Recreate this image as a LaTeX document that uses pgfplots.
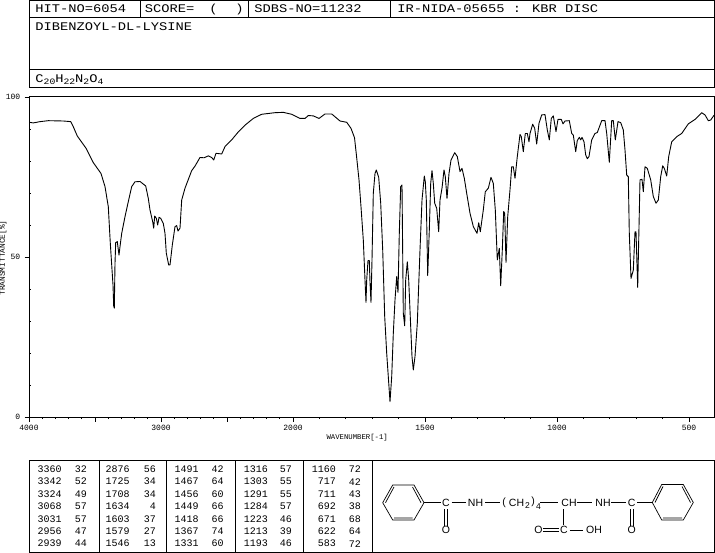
\documentclass[border=0pt]{standalone}
\usepackage{pgfplots}
\pgfplotsset{compat=1.18}
\usepackage{fontspec}
\setmainfont{Liberation Mono}
\newfontfamily\sansf{Liberation Sans}
\newcommand\hdrf{\fontsize{13.75}{14}\selectfont}
\newcommand\subf{\fontsize{9.7}{10}\selectfont}
\newcommand\tabf{\fontsize{10}{11}\selectfont}
\newcommand\tickf{\fontsize{8}{9}\selectfont}
\newcommand\strf{\sansf\fontsize{10.5}{11}\selectfont}
\newcommand\strsub{\sansf\fontsize{8.5}{9}\selectfont}
\begin{document}
\begin{tikzpicture}[line cap=butt]
\useasboundingbox (0,0) rectangle (715pt,-553pt);
\fill[white] (0,0) rectangle (715pt,-553pt);
\begin{axis}[
  at={(29pt,-417pt)}, anchor=south west,
  scale only axis, width=685.5pt, height=320pt,
  xmin=29, xmax=714.5, ymin=0, ymax=100,
  axis line style={line width=1pt, black},
  tick style={black, line width=.8pt},
  tick align=outside, xtick pos=bottom, ytick pos=left,
  major tick length=4.5pt, minor tick length=2pt,
  xtick={29,95,161,227,293,425,557,689},
  xticklabels={4000,,3000,,2000,1500,1000,500},
  minor xtick={42.2,55.4,68.6,81.8,108.2,121.4,134.6,147.8,174.2,187.4,200.6,213.8,240.2,253.4,266.6,279.8,319.4,345.8,372.2,398.6,451.4,477.8,504.2,530.6,583.4,609.8,636.2,662.6},
  ytick={0,50,100}, yticklabels={0,50,100},
  extra y ticks={10,20,30,40,60,70,80,90},
  extra y tick labels={},
  extra y tick style={tick align=inside, major tick length=2pt},
  tick label style={font=\tickf, inner sep=0pt},
  xticklabel style={yshift=-3pt},
  yticklabel style={xshift=-4pt},
  xlabel={WAVENUMBER[-1]},
  xlabel style={at={(axis description cs:0.4788,-0.053)}, anchor=north, font=\fontsize{7.3}{8}\selectfont, inner sep=0pt},
  ylabel={TRANSMITTANCE[\%]},
  ylabel style={at={(axis description cs:-0.038,0.497)}, anchor=center, font=\fontsize{7.8}{8}\selectfont, inner sep=0pt},
]
\addplot[black, line width=.9pt, line join=round] table {
29.3 92.1
33.3 91.9
40 92.3
48.3 92.6
63.3 92.5
70.7 92.3
73.3 90.7
77.3 87.8
86 84
93.3 79.5
101 76.1
105 72
108.3 65.7
110.3 54.3
111.7 47.5
113 41.3
113.7 34.7
114.3 34
115 48
115.7 54.5
117.3 54.8
119 50.6
120 53.2
121.7 57.4
125 62.6
128.3 67.3
131.7 72
135 73.5
140 73.6
145.7 72.2
148.3 68.3
150 64.7
152.7 61
153.7 59
154.7 62.8
156.3 62.1
157.7 60
159 62.4
160.7 62.1
163.3 60.5
165 57.4
166.3 51.2
168.7 47.5
170 47.5
172.3 53.7
175 59.5
176.7 59.8
178 58.1
180 59
181.7 67.8
185 71.5
191.7 77
195 78.4
200 81.1
204 81
208.3 81.6
211.7 81.1
213.7 80.3
216 82.4
221.7 82.2
225 84.5
231.7 86.6
238.3 89.1
245 91.2
253.3 93.3
261.7 94.6
275 95.1
283.3 95.2
291.7 94.6
300 93.3
305 93.3
308.3 94.2
313.3 94.1
319 93.3
325 94.7
331.7 94.7
340 92.5
346.7 92.1
351 90.2
354.5 87.3
356.5 81.6
359 74.1
361 65.7
363.3 55.3
365 42.8
366 35.8
366.7 42.8
368 48.9
369.3 48.9
370 42.1
371 35.8
372 49.1
373.3 69.9
375 76.1
376.3 77.2
378.7 74.9
380.7 66.8
382.7 52.2
384.7 31.4
386.7 19.9
388.3 12.6
390 4.8
391.7 12.6
393.3 26.1
395 36.6
396.7 43.9
398 38.9
399.3 57.4
400.7 72
402 72.5
403.3 32.4
404.7 28.5
405.7 42.8
407.3 48.5
408.7 42.8
410.7 28.2
412 18.9
413.3 14.7
415 18.9
417.3 29.3
420 52.2
422 67.8
424.3 75.3
425.3 73.5
426.3 67.8
427.7 44.2
429.3 58.4
430.7 73
432 77
433.3 73
434.7 66.8
436.7 65.2
438.7 57.9
440 67.8
442 71.5
444 77.2
445.3 75.1
447 68.3
449 76.1
451 80.3
454.7 82.6
457.3 81.4
460 76.7
462 77.7
464.3 74.6
466.7 69.9
470 63.7
473.3 59.5
477 57.4
478.7 60.7
480.3 57.9
483.3 64.7
485.3 70.4
488.3 71.5
491 74.9
493.3 73
495.3 64.7
497.3 49.1
499.3 52.7
500.7 41
502.3 52.2
503.7 64.2
504.7 63.7
506 48.3
507.7 62.6
510 71
511.7 78.2
513.3 78.2
515 74.6
517.3 81.4
520 88.3
521.3 87.6
523.3 82.9
525.3 88.6
527.3 88.6
529 86
530 88.6
532.7 91.5
534.7 90.2
536.7 85.3
539 91.8
541.7 94.4
545 94.5
547.3 89.7
549.3 86.6
551.3 93.3
553.3 94.1
556 89.2
558 93
561.3 93
563 91.6
565 92.5
569.3 92.6
571.7 88.6
573.3 88.1
575.7 82.9
577.3 86.4
579.3 87.4
580.7 86.6
582 87.4
584 86
585.7 81.9
587.3 80.7
589 81.4
591.7 86.6
595 88.6
597.3 88.9
601.7 92.6
605 92.6
606.7 88.6
609.3 79.6
611.7 92.6
613.3 92.6
615.3 86.6
618 92.3
620.7 92
623.3 89.7
625 83.4
626.7 75.6
628.3 75.1
629.3 57.4
631 43.3
633.3 45.9
635 57.9
636 57.9
637.7 40.5
640 74.1
642 74.3
643.3 70.4
645 78.2
647.3 77.7
650.7 74.1
653.3 68.9
656 66.8
658.3 67.8
660.7 75.1
662.7 78.5
664.3 77.7
666.7 75.3
668.7 81.4
671.7 86
676.7 87.6
681.7 88.6
688.3 91.6
695 93
701.7 95.1
705 94.4
708.3 92.6
710.7 92.8
714 94.3
};
\end{axis}
\draw[line width=1pt] (714.5pt,-97pt) -- (714.5pt,-417pt);
\begin{scope}[x=1pt,y=-1pt,line width=.9pt]
  % header
  \draw (29.5,0.5) rectangle (714.5,87.5);
  \draw (29.5,17) -- (714.5,17);
  \draw (29.5,69.5) -- (714.5,69.5);
  \draw (140,0.5) -- (140,17) (248.5,0.5) -- (248.5,17) (390,0.5) -- (390,17);
  \tikzset{hdr/.style={anchor=west,inner sep=0pt,font=\hdrf,yscale=.85,transform shape}}
  \node[hdr] at (35,9) {HIT-NO=6054};
  \node[hdr] at (144.5,9) {SCORE=};
  \node[hdr] at (209,9) {(};
  \node[hdr] at (235,9) {)};
  \node[hdr] at (254,9) {SDBS-NO=11232};
  \node[hdr] at (397,9) {IR-NIDA-05655 : KBR DISC};
  \node[hdr] at (35,27) {DIBENZOYL-DL-LYSINE};
  \newcommand\sbs[1]{\raisebox{-2.5pt}{\subf #1}}
  \node[hdr] at (35,79.5) {C\sbs{20}H\sbs{22}N\sbs{2}O\sbs{4}};
  % peak table
  \draw (29.5,460.5) rectangle (714.5,552);
  \draw (99,460.5) -- (99,552) (166.5,460.5) -- (166.5,552) (235.5,460.5) -- (235.5,552) (303.5,460.5) -- (303.5,552) (372.5,460.5) -- (372.5,552);
  \tikzset{tb/.style={anchor=east,inner sep=0pt,font=\tabf}}
  \newcommand\trow[5]{\node[tb] at (#1,#3) {#4}; \node[tb] at (#2,#3) {#5};}
  \trow{62}{87.3}{469.3}{3360}{32}
  \trow{62}{87.3}{481.7}{3342}{52}
  \trow{62}{87.3}{494.2}{3324}{49}
  \trow{62}{87.3}{506.7}{3068}{57}
  \trow{62}{87.3}{519}{3031}{57}
  \trow{62}{87.3}{531.4}{2956}{47}
  \trow{62}{87.3}{543.7}{2939}{44}
  \trow{130}{156.3}{469.3}{2876}{56}
  \trow{130}{156.3}{481.7}{1725}{34}
  \trow{130}{156.3}{494.2}{1708}{34}
  \trow{130}{156.3}{506.7}{1634}{4}
  \trow{130}{156.3}{519}{1603}{37}
  \trow{130}{156.3}{531.4}{1579}{27}
  \trow{130}{156.3}{543.7}{1546}{13}
  \trow{199}{224}{469.3}{1491}{42}
  \trow{199}{224}{481.7}{1467}{64}
  \trow{199}{224}{494.2}{1456}{60}
  \trow{199}{224}{506.7}{1449}{66}
  \trow{199}{224}{519}{1418}{66}
  \trow{199}{224}{531.4}{1367}{74}
  \trow{199}{224}{543.7}{1331}{60}
  \trow{268.3}{292.3}{469.3}{1316}{57}
  \trow{268.3}{292.3}{481.7}{1303}{55}
  \trow{268.3}{292.3}{494.2}{1291}{55}
  \trow{268.3}{292.3}{506.7}{1284}{57}
  \trow{268.3}{292.3}{519}{1223}{46}
  \trow{268.3}{292.3}{531.4}{1213}{39}
  \trow{268.3}{292.3}{543.7}{1193}{46}
  \trow{336.3}{361.3}{469.3}{1160}{72}
  \trow{336.3}{361.3}{481.7}{717}{42}
  \trow{336.3}{361.3}{494.2}{711}{43}
  \trow{336.3}{361.3}{506.7}{692}{38}
  \trow{336.3}{361.3}{519}{671}{68}
  \trow{336.3}{361.3}{531.4}{622}{64}
  \trow{336.3}{361.3}{543.7}{583}{72}
  % structure
  \begin{scope}[line width=.7pt]
    \draw (382.7,502.7) -- (392.7,485) -- (414,485) -- (424,502.7) -- (414,520) -- (392.7,520) -- cycle;
    \draw (385.5,502.7) -- (394,487) (412.5,487) -- (421,502.7) (394,518) -- (412.5,518);
    \draw (652.3,502.5) -- (661.7,484.5) -- (683.3,484.5) -- (693.3,502.5) -- (683.3,520) -- (661.7,520) -- cycle;
    \draw (655,502.5) -- (663,486.5) (682,486.5) -- (690.5,502.5) (663,518) -- (682,518);
    \draw (424,502.7) -- (441,502.7) (451.5,502.7) -- (466,502.7) (485,502.7) -- (500,502.7);
    \draw (540,502.7) -- (558,502.7) (577,502.7) -- (592,502.7) (611,502.7) -- (626,502.7) (637,502.7) -- (652.3,502.7);
    \draw (444.3,509) -- (444.3,525.5) (447,509) -- (447,525.5);
    \draw (630.5,509) -- (630.5,525.5) (633.2,509) -- (633.2,525.5);
    \draw (563.5,509) -- (563.5,525);
    \draw (543,528.7) -- (559,528.7) (543,531.3) -- (559,531.3);
    \draw (569.5,530) -- (583,530);
  \end{scope}
  \tikzset{st/.style={anchor=center,inner sep=0pt,font=\strf}}
  \node[st] at (446,502.7) {C};
  \node[st] at (475.5,502.7) {NH};
  \node[st] at (504,502.7) {(};
  \node[st] at (516.5,502.7) {CH};
  \node[inner sep=0pt,font=\strsub] at (527.5,506) {2};
  \node[st] at (533,502.2) {)};
  \node[inner sep=0pt,font=\strsub] at (538.5,507) {4};
  \node[st] at (569,502.7) {CH};
  \node[st] at (603,502.7) {NH};
  \node[st] at (631.7,502.7) {C};
  \node[st] at (446,530) {O};
  \node[st] at (631.7,530) {O};
  \node[st] at (538.5,530) {O};
  \node[st] at (564,530) {C};
  \node[st] at (594,530) {OH};
\end{scope}
\end{tikzpicture}
\end{document}
